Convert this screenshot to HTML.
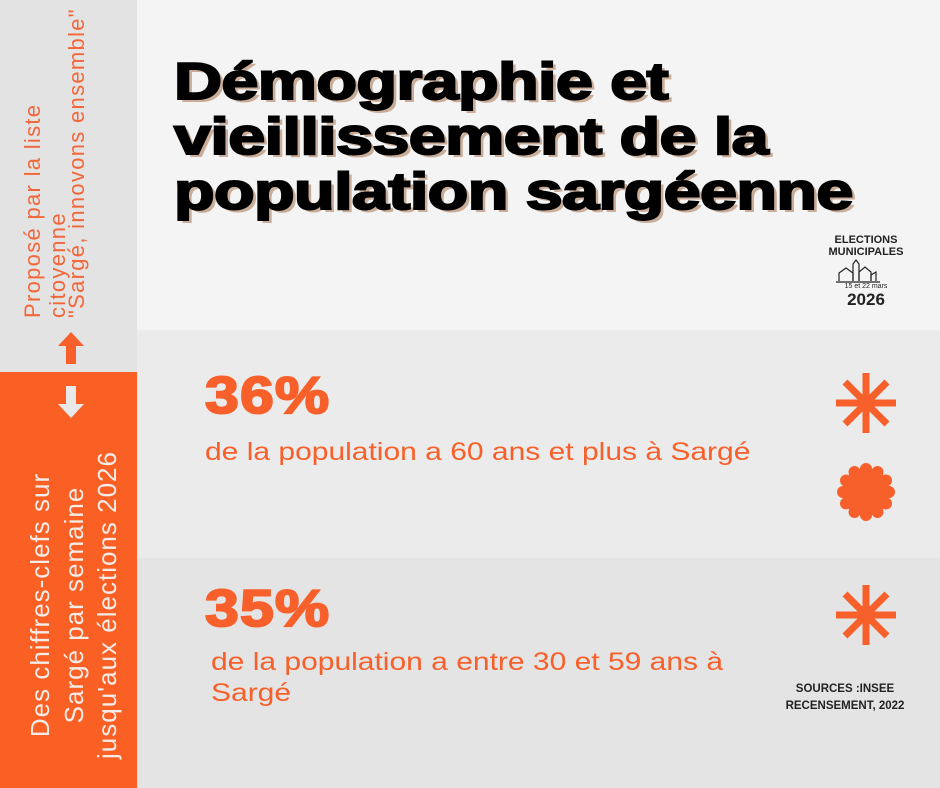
<!DOCTYPE html>
<html><head><meta charset="utf-8"><style>
*{margin:0;padding:0;box-sizing:border-box}
body{width:940px;height:788px;position:relative;overflow:hidden;background:#f4f4f4;font-family:"Liberation Sans",sans-serif}
.abs{position:absolute}
.rot{position:absolute;transform:rotate(-90deg);transform-origin:top left;white-space:nowrap}
.t1{color:#f2673a;font-size:22px;line-height:24px;height:24px;width:320px;letter-spacing:1.3px;top:318px}
.t2{color:#f3ece8;font-size:26px;line-height:30px;height:30px;width:340px;text-align:center;letter-spacing:1px;top:775px}
.title{left:174px;top:55px;font-size:52px;line-height:55px;font-weight:bold;color:#000;-webkit-text-stroke:2px #000;text-shadow:3px 3px 0 #c9ad98;letter-spacing:-0.5px;white-space:nowrap;transform:scaleX(1.28);transform-origin:left top}
.big{font-weight:bold;color:#f7602a;font-size:52px;-webkit-text-stroke:2px #f7602a;letter-spacing:1px;transform:scaleX(1.17);transform-origin:left top}
.txt{color:#f7602a;font-size:25px;transform:scaleX(1.2);transform-origin:left top;white-space:nowrap}
</style></head><body>
<div class="abs" style="left:0;top:0;width:137px;height:372px;background:#e3e3e3"></div>
<div class="abs" style="left:0;top:372px;width:137px;height:416px;background:#fa5f24"></div>
<div class="abs" style="left:137px;top:330px;width:803px;height:228px;background:#ebebeb"></div>
<div class="abs" style="left:137px;top:558px;width:803px;height:230px;background:#e4e4e4"></div>

<div class="rot t1" style="left:21px">Proposé par la liste</div>
<div class="rot t1" style="left:46px">citoyenne</div>
<div class="rot t1" style="left:65px">"Sargé, innovons ensemble"</div>
<svg class="abs" style="left:56px;top:330px" width="30" height="36"><path d="M15 2 L28 16 L20 16 L20 34 L10 34 L10 16 L2 16 Z" fill="#f7602a"/></svg>
<svg class="abs" style="left:56px;top:384px" width="30" height="36"><path d="M15 34 L28 20 L20 20 L20 2 L10 2 L10 20 L2 20 Z" fill="#e9e9e9"/></svg>
<div class="rot t2" style="left:25px">Des chiffres-clefs sur</div>
<div class="rot t2" style="left:59px">Sargé par semaine</div>
<div class="rot t2" style="left:92px">jusqu'aux élections 2026</div>

<div class="abs title">Démographie et<br>vieillissement de la<br>population sargéenne</div>

<div class="abs" style="left:800px;top:234px;width:132px;text-align:center;font-size:11px;font-weight:bold;line-height:12px;color:#222">ELECTIONS<br>MUNICIPALES</div>
<svg class="abs" style="left:834px;top:258px" width="48" height="26"><g fill="none" stroke="#222" stroke-width="1.2"><path d="M2 24 L46 24"/><path d="M5 23 V15 L12 10 L19 15 V23"/><path d="M19 23 V6 L22 2 L25 6 V23"/><path d="M25 23 V14 L31 9 L37 14 V23"/><path d="M37 23 V17 L42 14 V23"/></g></svg>
<div class="abs" style="left:800px;top:283px;width:132px;text-align:center;font-size:7px;color:#222">15 et 22 mars</div>
<div class="abs" style="left:800px;top:290px;width:132px;text-align:center;font-size:17px;font-weight:bold;color:#222">2026</div>

<div class="abs big" style="left:205px;top:366px">36%</div>
<div class="abs txt" style="left:205px;top:438px">de la population a 60 ans et plus à Sargé</div>
<div class="abs big" style="left:205px;top:579px">35%</div>
<div class="abs txt" style="left:211px;top:647px;line-height:31px">de la population a entre 30 et 59 ans à<br>Sargé</div>

<svg class="abs" style="left:836px;top:373px" width="60" height="60"><g stroke="#f7602a" stroke-width="7"><path d="M30 0 V60 M0 30 H60 M9 9 L51 51 M51 9 L9 51"/></g></svg>
<svg class="abs" style="left:836px;top:462px" width="60" height="60"><g fill="#f7602a"><circle cx="30" cy="30" r="24"/>
<circle cx="30" cy="7" r="6"/><circle cx="41.5" cy="10" r="6"/><circle cx="50" cy="18.5" r="6"/><circle cx="53" cy="30" r="6"/><circle cx="50" cy="41.5" r="6"/><circle cx="41.5" cy="50" r="6"/><circle cx="30" cy="53" r="6"/><circle cx="18.5" cy="50" r="6"/><circle cx="10" cy="41.5" r="6"/><circle cx="7" cy="30" r="6"/><circle cx="10" cy="18.5" r="6"/><circle cx="18.5" cy="10" r="6"/></g></svg>
<svg class="abs" style="left:836px;top:585px" width="60" height="60"><g stroke="#f7602a" stroke-width="7"><path d="M30 0 V60 M0 30 H60 M9 9 L51 51 M51 9 L9 51"/></g></svg>

<div class="abs" style="left:770px;top:681px;width:150px;text-align:center;font-size:11.5px;font-weight:bold;line-height:17px;color:#222">SOURCES :INSEE<br>RECENSEMENT, 2022</div>
</body></html>
